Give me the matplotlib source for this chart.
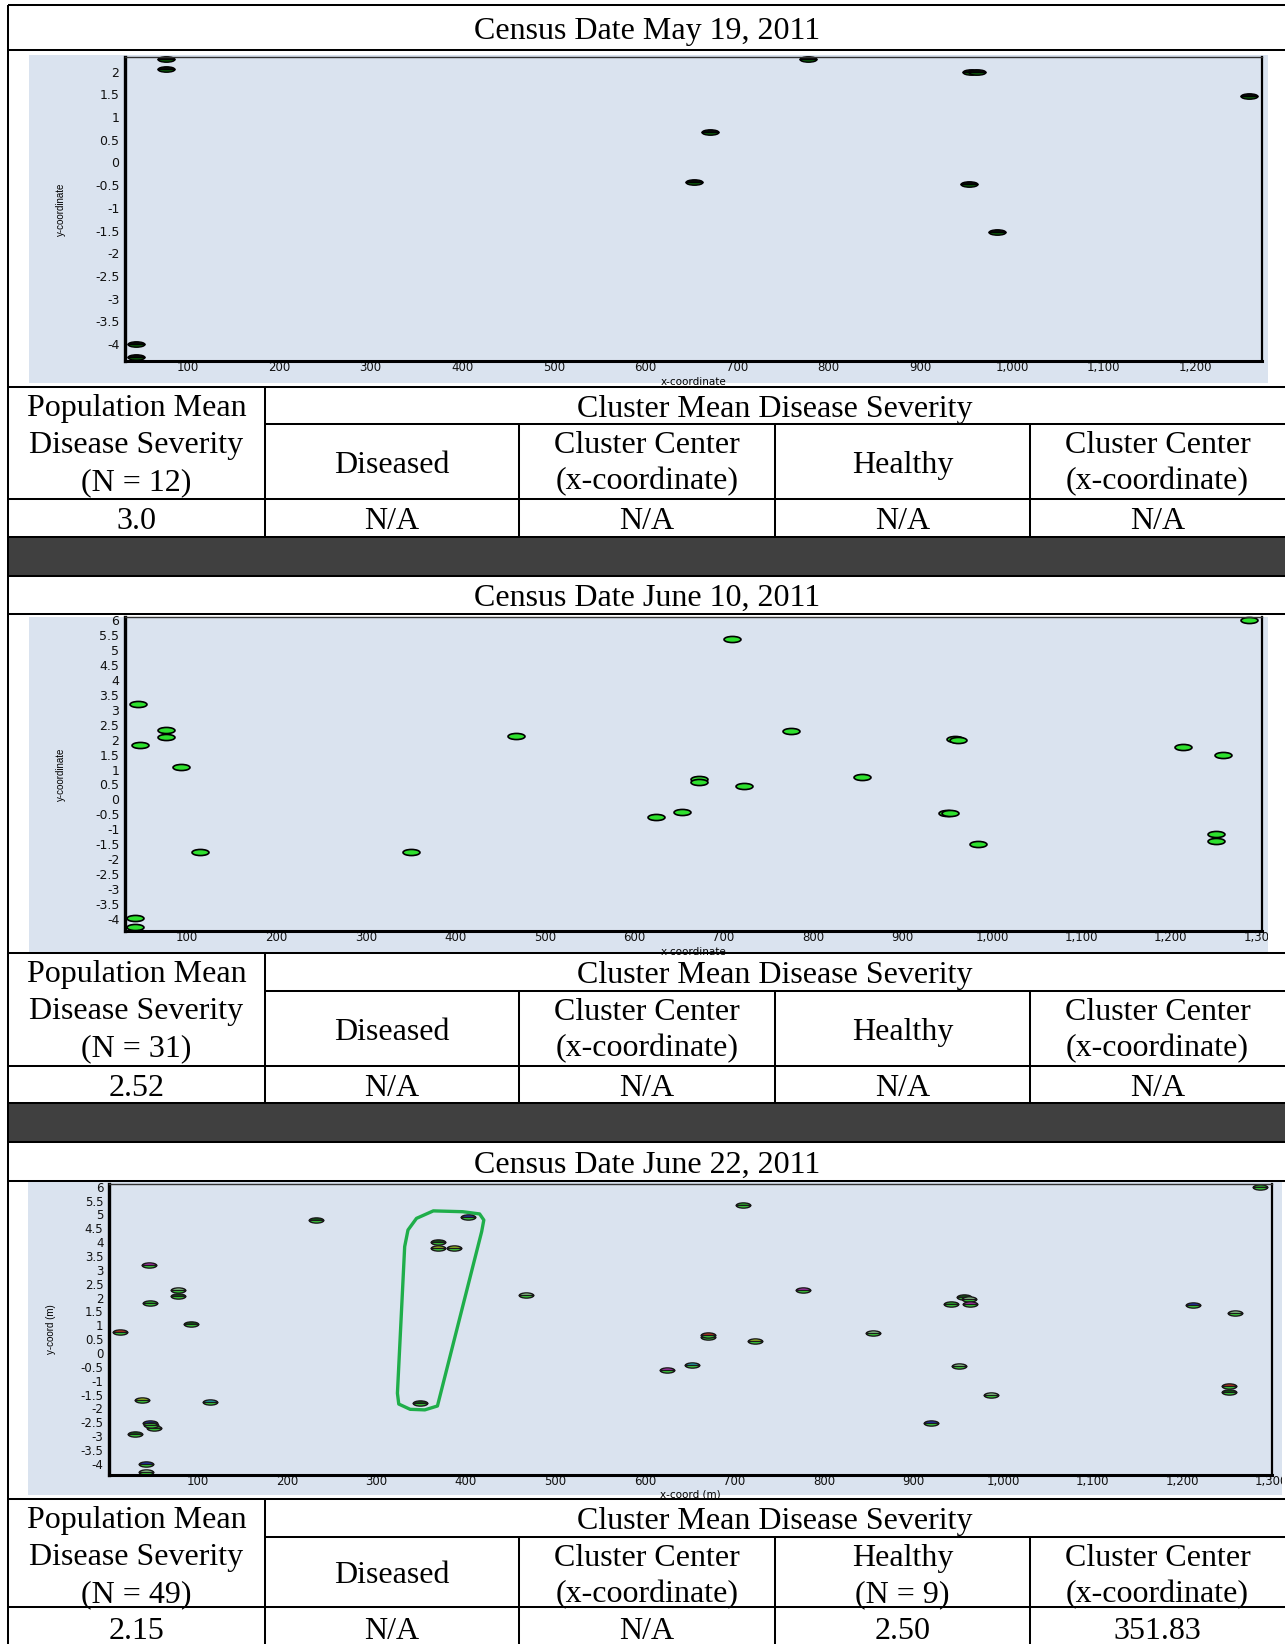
import numpy as np
import matplotlib
matplotlib.use("Agg")
import matplotlib.pyplot as plt
from matplotlib.markers import MarkerStyle
from matplotlib.transforms import Affine2D, Bbox
from matplotlib.patches import Rectangle, Polygon
from matplotlib.ticker import FixedLocator, FuncFormatter

W, H = 1285, 1644

# ---- census May 19, 2011 ----
may_x = [77, 77, 44, 44, 777, 955, 962, 1259, 671, 653, 953, 984]
may_y = [2.27, 2.05, -4.0, -4.29, 2.27, 2.0, 1.98, 1.46, 0.67, -0.42, -0.47, -1.54]

# ---- census June 10, 2011 ----
jun10_x = [45, 77, 77, 48, 93, 115, 350, 468, 42, 42,
           624, 653, 672, 672, 723, 709, 775, 855, 959, 962,
           950, 953, 985, 1214, 1258, 1251, 1251, 1288]
jun10_y = [3.19, 2.31, 2.09, 1.82, 1.07, -1.75, -1.77, 2.11, -3.98, -4.26,
           -0.58, -0.41, 0.69, 0.58, 0.45, 5.37, 2.30, 0.76, 2.03, 1.98,
           -0.45, -0.45, -1.50, 1.75, 1.47, -1.17, -1.38, 6.0]

# ---- census June 22, 2011 (tone = colour of the upper half of each marker) ----
jun22_x = [232, 402, 369, 369, 387, 46, 78, 78, 47, 93,
           13, 467, 38, 114, 349, 47, 48, 51, 30, 43,
           43, 710, 1287, 776, 956, 962, 942, 963, 1212, 1259,
           670, 670, 723, 855, 625, 653, 951, 986, 919, 1252, 1252]
jun22_y = [4.80, 4.90, 4.00, 3.80, 3.79, 3.16, 2.27, 2.07, 1.79, 1.05,
           0.77, 2.09, -1.69, -1.76, -1.79, -2.51, -2.60, -2.69, -2.93, -4.00,
           -4.28, 5.35, 6.00, 2.29, 2.02, 1.96, 1.78, 1.78, 1.73, 1.45,
           0.66, 0.58, 0.42, 0.73, -0.60, -0.43, -0.48, -1.52, -2.53, -1.19, -1.40]
jun22_tone = ['d', 'b', 'd', 'y', 'y', 'm', 'l', 'd', 'g', 'd',
              'r', 'l', 'y', 'c', 'd', 'b', 'b', 'g', 'd', 'b',
              'l', 'g', 'g', 'm', 'd', 'l', 'g', 'm', 'b', 'l',
              'r', 'g', 'y', 'l', 'm', 'c', 'l', 'l', 'b', 'r', 'd']

# outline drawn around the healthy cluster
loop_x = [363.5, 396.4, 415.2, 419.9, 417.5, 368.1, 354.0, 337.6, 324.9, 323.4, 331.5, 335.2, 344.7]
loop_y = [5.13, 5.10, 5.02, 4.80, 4.38, -1.91, -2.05, -2.03, -1.84, -1.45, 3.84, 4.44, 4.86]

# ---- table contents ----
census_dates = ["May 19, 2011", "June 10, 2011", "June 22, 2011"]
pop_n = [12, 31, 49]
pop_mean = ["3.0", "2.52", "2.15"]
diseased_mean = ["N/A", "N/A", "N/A"]
diseased_center = ["N/A", "N/A", "N/A"]
healthy_n = [None, None, 9]
healthy_mean = ["N/A", "N/A", "2.50"]
healthy_center = ["N/A", "N/A", "351.83"]
x_labels = ["x-coordinate", "x-coordinate", "x-coord (m)"]
y_labels = ["y-coordinate", "y-coordinate", "y-coord (m)"]

# page geometry in pixels (y downwards)
panels = [
    dict(top=5, title_bot=50, bg=(29, 55, 1268, 383), box=(125, 57, 1262, 361),
         plot_bot=387, hdr_bot=424, sub_bot=499, data_bot=537, gray_bot=576,
         xlim=(32, 1273), ylim=(-4.37, 2.32), xmax_tick=1200, ymax_tick=2,
         xlab_y=382, ylab_x=66, ysize=9),
    dict(top=576, title_bot=614, bg=(29, 617, 1268, 953), box=(125, 617, 1262, 931),
         plot_bot=953, hdr_bot=991, sub_bot=1066, data_bot=1103, gray_bot=1142,
         xlim=(30.7, 1302), ylim=(-4.4, 6.1), xmax_tick=1300, ymax_tick=6,
         xlab_y=952, ylab_x=66, ysize=9),
    dict(top=1142, title_bot=1181, bg=(28, 1182, 1282, 1495), box=(109, 1184, 1272, 1475),
         plot_bot=1499, hdr_bot=1537, sub_bot=1607, data_bot=1660, gray_bot=None,
         xlim=(1.2, 1300.4), ylim=(-4.4, 6.1), xmax_tick=1300, ymax_tick=6,
         xlab_y=1494, ylab_x=56, ysize=8.5),
]
col_edges = [8, 265, 519, 775, 1030, W]

BLUE = "#dae3ef"
SERIF = "Liberation Serif"
TSIZE = 23
LW = 1.45

plt.rcParams["axes.unicode_minus"] = False

fig = plt.figure(figsize=(W / 100, H / 100), dpi=100)
page = fig.add_axes([0, 0, 1, 1], zorder=0)
page.set_xlim(0, W)
page.set_ylim(H, 0)
page.axis("off")


def hline(y, x0=8, x1=W):
    page.plot([x0, x1], [y, y], color="black", lw=LW, solid_capstyle="butt")


def vline(x, y0, y1):
    page.plot([x, x], [y0, y1], color="black", lw=LW, solid_capstyle="butt")


def cell_text(x, yc, s):
    # yc is the visual middle of the capitals
    page.text(x, yc + 11, s, ha="center", va="baseline", fontsize=TSIZE, family=SERIF)


def ellipse(fill="full", squash=0.34):
    return MarkerStyle("o", fillstyle=fill, transform=Affine2D().scale(1, squash))


tone_colors = {'g': '#2fc42f', 'd': '#0f5a0f', 'l': '#a8f0a8', 'b': '#2436c8',
               'm': '#cc33cc', 'r': '#dd3a1e', 'c': '#22bccc', 'y': '#b8de22'}

vline(8, 5, H)
hline(5)

for i, p in enumerate(panels):
    # title row
    hline(p["title_bot"])
    cell_text(647, (p["top"] + p["title_bot"]) / 2, "Census Date " + census_dates[i])

    # blue chart background
    bx0, by0, bx1, by1 = p["bg"]
    page.add_patch(Rectangle((bx0, by0), bx1 - bx0, by1 - by0, color=BLUE, lw=0))

    # table rows
    hline(p["plot_bot"])
    hline(p["hdr_bot"], 265, W)
    hline(p["sub_bot"])
    if p["gray_bot"] is not None:
        hline(p["data_bot"])
        page.add_patch(Rectangle((8, p["data_bot"]), W - 8, p["gray_bot"] - p["data_bot"],
                                 color="#404040", lw=0))
        hline(p["gray_bot"])
    vline(265, p["plot_bot"], p["data_bot"])
    for cx in col_edges[2:5]:
        vline(cx, p["hdr_bot"], p["data_bot"])

    pb, hb, sb, db = p["plot_bot"], p["hdr_bot"], p["sub_bot"], p["data_bot"]
    c1 = (col_edges[0] + col_edges[1]) / 2
    cell_text(c1, pb + 18, "Population Mean")
    cell_text(c1, pb + 55, "Disease Severity")
    cell_text(c1, pb + 92, f"(N = {pop_n[i]})")
    cell_text((col_edges[1] + W) / 2, (pb + hb) / 2, "Cluster Mean Disease Severity")
    mids = [(col_edges[k] + col_edges[k + 1]) / 2 for k in range(1, 5)]
    cell_text(mids[0], (hb + sb) / 2, "Diseased")
    cell_text(mids[1], hb + 18, "Cluster Center")
    cell_text(mids[1], hb + 54, "(x-coordinate)")
    if healthy_n[i] is None:
        cell_text(mids[2], (hb + sb) / 2, "Healthy")
    else:
        cell_text(mids[2], hb + 18, "Healthy")
        cell_text(mids[2], hb + 54, f"(N = {healthy_n[i]})")
    cell_text(mids[3], hb + 18, "Cluster Center")
    cell_text(mids[3], hb + 54, "(x-coordinate)")
    yd = (sb + db) / 2 if p["gray_bot"] is not None else sb + 21
    for cx, val in zip([c1] + mids, [pop_mean[i], diseased_mean[i], diseased_center[i],
                                     healthy_mean[i], healthy_center[i]]):
        cell_text(cx, yd, val)

    # scatter axes
    x0, y0, x1, y1 = p["box"]
    ax = fig.add_axes([x0 / W, 1 - y1 / H, (x1 - x0) / W, (y1 - y0) / H], zorder=2)
    ax.set_facecolor(BLUE)
    ax.set_xlim(*p["xlim"])
    ax.set_ylim(*p["ylim"])
    ax.xaxis.set_major_locator(FixedLocator(np.arange(100, p["xmax_tick"] + 1, 100)))
    ax.yaxis.set_major_locator(FixedLocator(np.arange(-4, p["ymax_tick"] + 0.01, 0.5)))
    ax.xaxis.set_major_formatter(FuncFormatter(lambda v, _: f"{int(round(v)):,}"))
    ax.yaxis.set_major_formatter(FuncFormatter(lambda v, _: f"{v:g}"))
    ax.tick_params(length=0, colors="#111111")
    ax.tick_params(axis="x", pad=0, labelsize=8.5)
    ax.tick_params(axis="y", pad=4, labelsize=p["ysize"])
    ax.spines["left"].set_linewidth(2.4)
    ax.spines["bottom"].set_linewidth(2.2)
    ax.spines["top"].set_linewidth(1.0)
    ax.spines["top"].set_color("#333333")
    ax.spines["right"].set_linewidth(1.6)

    ax.set_xlabel(x_labels[i], fontsize=7.5, family="DejaVu Sans")
    ax.xaxis.set_label_coords(0.5, (y1 - p["xlab_y"]) / (y1 - y0))
    ax.xaxis.label.set_va("center")
    ax.set_ylabel(y_labels[i], fontsize=7, family="Liberation Sans")
    ax.yaxis.set_label_coords((p["ylab_x"] - x0) / (x1 - x0), 0.5)

    # keep tick labels inside the blue background
    clip = Bbox([[bx0, H - by1], [bx1, H - by0]])
    for t in ax.xaxis.get_major_ticks():
        t.label1.set_clip_box(clip)
        t.label1.set_clip_on(True)

    if i == 0:
        ax.plot(may_x, may_y, linestyle="none", marker=ellipse("top", 0.32), markersize=12.2,
                mfc="#0a0a0a", mfcalt="#0c5e0c", mec="black", mew=1.0, clip_on=False)
    elif i == 1:
        ax.plot(jun10_x, jun10_y, linestyle="none", marker=ellipse("full", 0.36), markersize=12.2,
                mfc="#2ee02e", mec="black", mew=1.2, clip_on=False)
    else:
        ax.add_patch(Polygon(np.column_stack([loop_x, loop_y]), closed=True, fill=False,
                             edgecolor="#1fae4a", lw=2.4, joinstyle="round"))
        tx = np.array(jun22_x)
        ty = np.array(jun22_y)
        tones = np.array(jun22_tone)
        for key, col in tone_colors.items():
            sel = tones == key
            if sel.any():
                ax.plot(tx[sel], ty[sel], linestyle="none", marker=ellipse("top", 0.36),
                        markersize=10.4, mfc=col, mfcalt="#3ddc3d", mec="#1a1a1a", mew=1.0,
                        clip_on=False)

fig.savefig("out.png", dpi=100)
